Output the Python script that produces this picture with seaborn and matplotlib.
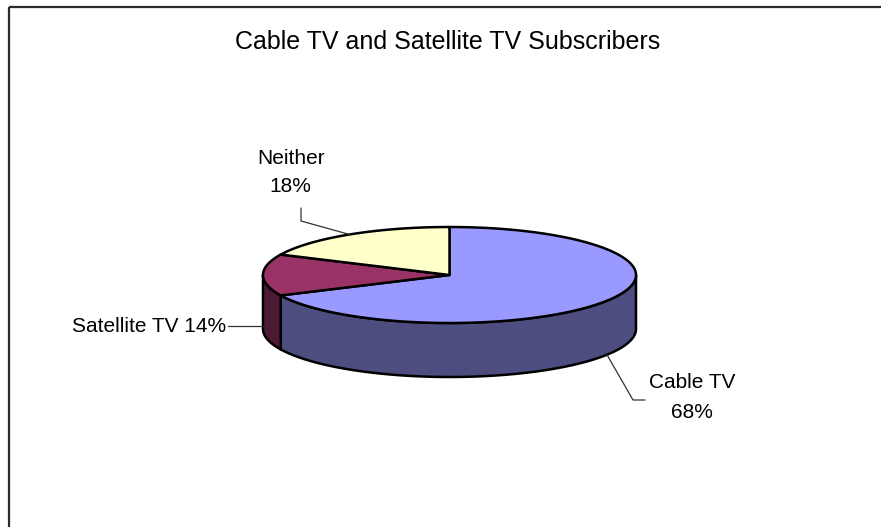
import numpy as np
import matplotlib
matplotlib.use("Agg")
import matplotlib.pyplot as plt
from matplotlib.patches import Polygon
import seaborn as sns

# Subscriber shares (percent), drawn clockwise from 12 o'clock
categories = ["Cable TV", "Satellite TV", "Neither"]
shares = [68, 14, 18]
top_colors = ["#9999FF", "#993366", "#FFFFCC"]
side_colors = ["#4D4D80", "#4D1A33", "#80801A"]
title = "Cable TV and Satellite TV Subscribers"

sns.set_theme(style="white")
plt.rcParams["font.family"] = ["Liberation Sans", "DejaVu Sans"]

W, H = 881, 527
fig = plt.figure(figsize=(W / 100, H / 100), dpi=100)
ax = fig.add_axes([0, 0, 1, 1])
ax.set_xlim(0, W)
ax.set_ylim(H, 0)
ax.axis("off")

# tilted-disc geometry (pixels)
cx, cy, a, b, depth = 449.5, 275.0, 186.5, 48.0, 54.0


def rim(t_deg, drop=0.0):
    t = np.radians(t_deg)
    return cx + a * np.cos(t), cy - b * np.sin(t) + drop


# angular extent of each slice (degrees, counter-clockwise convention)
total = sum(shares)
spans = []
start = 90.0
for v in shares:
    sweep = 360.0 * v / total
    spans.append((start - sweep, start))
    start -= sweep


def front_parts(t1, t2):
    parts = []
    for k in range(-2, 3):
        lo, hi = 180 + 360 * k, 360 + 360 * k
        s, e = max(t1, lo), min(t2, hi)
        if e > s:
            parts.append((s, e))
    return parts


edge_kw = dict(edgecolor="black", linewidth=1.8, joinstyle="round")

# side walls (only the near half of the rim is visible)
for (t1, t2), col in zip(spans, side_colors):
    for s, e in front_parts(t1, t2):
        ts = np.linspace(s, e, 200)
        xt, yt = rim(ts)
        xb, yb = rim(ts[::-1], depth)
        pts = np.column_stack([np.concatenate([xt, xb]), np.concatenate([yt, yb])])
        ax.add_patch(Polygon(pts, closed=True, facecolor=col, zorder=2, **edge_kw))

# top faces
for (t1, t2), col in zip(spans, top_colors):
    ts = np.linspace(t1, t2, 300)
    xt, yt = rim(ts)
    pts = np.column_stack([np.concatenate([[cx], xt]), np.concatenate([[cy], yt])])
    ax.add_patch(Polygon(pts, closed=True, facecolor=col, zorder=3, **edge_kw))

# data labels with leader lines anchored at each slice's mid-angle
mids = [(t1 + t2) / 2 for t1, t2 in spans]
label_fs = 15
line_kw = dict(color="#333333", lw=0.9, zorder=4)

# Cable TV
mx, my = rim(mids[0], depth)
ax.plot([mx, 633, 645], [my, 400, 400], **line_kw)
ax.text(692, 383, categories[0], ha="center", va="center", fontsize=label_fs, color="black")
ax.text(692, 413, f"{shares[0]}%", ha="center", va="center", fontsize=label_fs, color="black")

# Satellite TV
mx, my = rim(mids[1], depth * 0.95)
ax.plot([228, mx], [my, my], **line_kw)
ax.text(226, my, f"{categories[1]} {shares[1]}%", ha="right", va="center",
        fontsize=label_fs, color="black")

# Neither
mx, my = rim(mids[2])
ax.plot([301, 301, mx], [208, 221, my], **line_kw)
ax.text(291, 158, categories[2], ha="center", va="center", fontsize=label_fs, color="black")
ax.text(290, 187, f"{shares[2]}%", ha="center", va="center", fontsize=label_fs, color="black")

ax.text(448, 42, title, ha="center", va="center", fontsize=18, color="black")

# chart-area frame (left and top edges)
ax.plot([8.5, W], [6.5, 6.5], color="#2b2b2b", lw=1.6, solid_capstyle="butt")
ax.plot([8.5, 8.5], [6.5, H], color="#2b2b2b", lw=1.6, solid_capstyle="butt")

fig.savefig("out.png", dpi=100, facecolor="white")
